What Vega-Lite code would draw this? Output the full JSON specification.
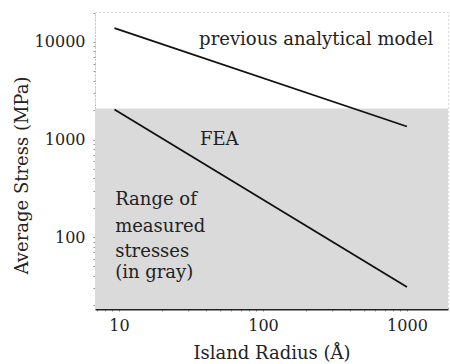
{
  "$schema": "https://vega.github.io/schema/vega-lite/v6.json",
  "width": 353,
  "height": 297,
  "autosize": {"type": "none"},
  "padding": {"left": 95, "top": 12, "right": 2, "bottom": 55},
  "background": "white",
  "config": {
    "view": {"stroke": "#bbbbbb", "strokeDash": [1, 3], "strokeWidth": 1},
    "font": "DejaVu Serif"
  },
  "datasets": {
    "band": [{"x0": 6.81, "x1": 1928, "y0": 18.3, "y1": 2080}],
    "lines": [
      {"series": "previous analytical model", "radius": 9.3, "stress": 13900},
      {"series": "previous analytical model", "radius": 1000, "stress": 1360},
      {"series": "FEA", "radius": 9.3, "stress": 2030},
      {"series": "FEA", "radius": 1000, "stress": 30.7}
    ],
    "labels": [
      {"label": "previous analytical model", "radius": 36, "stress": 10500},
      {"label": "FEA", "radius": 36.5, "stress": 1000},
      {"label": "Range of", "radius": 9.4, "stress": 239},
      {"label": "measured", "radius": 9.4, "stress": 127},
      {"label": "stresses", "radius": 9.4, "stress": 70},
      {"label": "(in gray)", "radius": 9.4, "stress": 42.8}
    ]
  },
  "layer": [
    {
      "data": {"name": "band"},
      "mark": {"type": "rect", "color": "#dadada", "clip": true},
      "encoding": {
        "x": {
          "field": "x0", "type": "quantitative",
          "scale": {"type": "log", "domain": [6.81, 1928], "nice": false},
          "axis": {
            "title": "Island Radius (Å)",
            "values": [7, 8, 9, 10, 20, 30, 40, 50, 60, 70, 80, 90, 100, 200, 300, 400, 500, 600, 700, 800, 900, 1000],
            "labelExpr": "datum.value == 10 ? '10' : datum.value == 100 ? '100' : datum.value == 1000 ? '1000' : ''",
            "grid": false,
            "domainColor": "#222222",
            "domainWidth": 2,
            "tickColor": "#999999",
            "tickSize": 2,
            "labelPadding": 6,
            "labelFont": "DejaVu Serif",
            "labelFontSize": 16,
            "labelColor": "#222222",
            "titleFont": "DejaVu Serif",
            "titleFontSize": 18,
            "titleFontWeight": "normal",
            "titleColor": "#222222",
            "titleBaseline": "middle",
            "titleY": 44
          }
        },
        "x2": {"field": "x1"},
        "y": {
          "field": "y0", "type": "quantitative",
          "scale": {"type": "log", "domain": [18.3, 20300], "nice": false},
          "axis": {
            "title": "Average Stress (MPa)",
            "values": [20, 30, 40, 50, 60, 70, 80, 90, 100, 200, 300, 400, 500, 600, 700, 800, 900, 1000, 2000, 3000, 4000, 5000, 6000, 7000, 8000, 9000, 10000, 20000],
            "labelExpr": "datum.value == 100 ? '100' : datum.value == 1000 ? '1000' : datum.value == 10000 ? '10000' : ''",
            "grid": false,
            "domainColor": "#aaaaaa",
            "domainDash": [1, 2],
            "tickColor": "#999999",
            "tickSize": 2,
            "labelPadding": 8,
            "labelFont": "DejaVu Serif",
            "labelFontSize": 16,
            "labelColor": "#222222",
            "titleFont": "DejaVu Serif",
            "titleFontSize": 18,
            "titleFontWeight": "normal",
            "titleColor": "#222222",
            "titleAngle": -90,
            "titleAlign": "center",
            "titleBaseline": "middle",
            "titleX": -73,
            "titleY": 163
          }
        },
        "y2": {"field": "y1"}
      }
    },
    {
      "data": {"name": "lines"},
      "mark": {"type": "line", "color": "#111111", "strokeWidth": 1.8},
      "encoding": {
        "x": {"field": "radius", "type": "quantitative"},
        "y": {"field": "stress", "type": "quantitative"},
        "detail": {"field": "series"}
      }
    },
    {
      "data": {"name": "labels"},
      "mark": {"type": "text", "align": "left", "baseline": "middle", "font": "DejaVu Serif", "fontSize": 18, "color": "#222222"},
      "encoding": {
        "x": {"field": "radius", "type": "quantitative"},
        "y": {"field": "stress", "type": "quantitative"},
        "text": {"field": "label"}
      }
    }
  ]
}
